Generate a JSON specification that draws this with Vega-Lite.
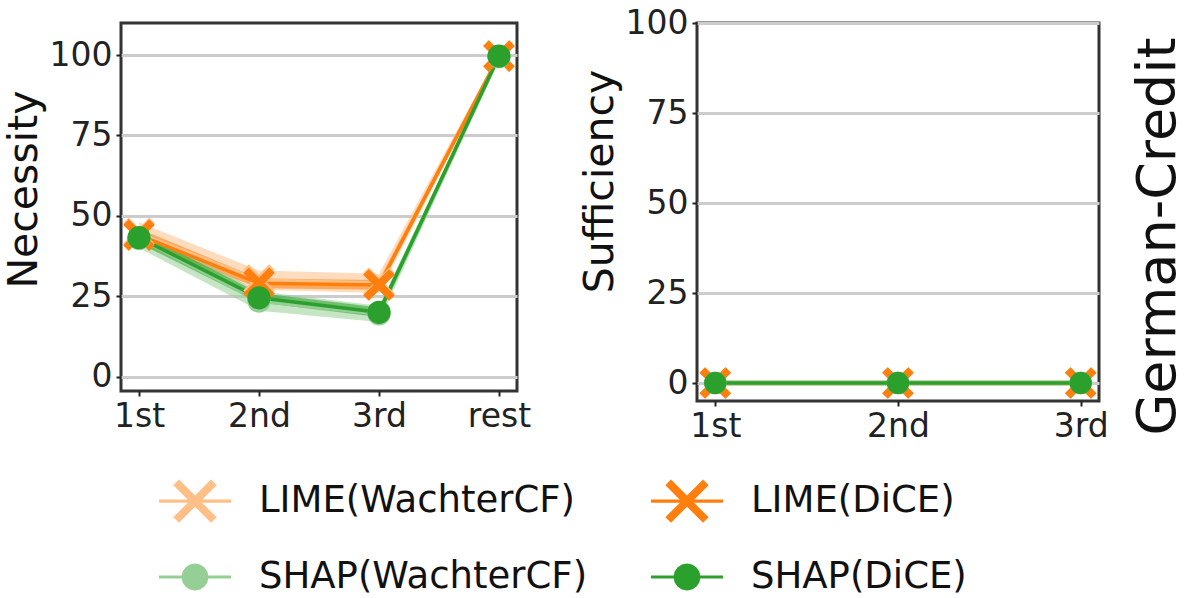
{
  "$schema": "https://vega.github.io/schema/vega-lite/v6.json",
  "background": "white",
  "padding": {"left": 1, "top": 5, "right": 0, "bottom": 170},
  "datasets": {
    "d": [
      {"panel": "nec", "series": "LIME(WachterCF)", "rank": "1st", "value": 44.5, "lo": 41, "hi": 48},
      {"panel": "nec", "series": "LIME(WachterCF)", "rank": "2nd", "value": 30, "lo": 27, "hi": 33},
      {"panel": "nec", "series": "LIME(WachterCF)", "rank": "3rd", "value": 29, "lo": 26, "hi": 32},
      {"panel": "nec", "series": "LIME(WachterCF)", "rank": "rest", "value": 99.7, "lo": 98.7, "hi": 100.7},
      {"panel": "nec", "series": "LIME(DiCE)", "rank": "1st", "value": 44, "lo": 42, "hi": 46},
      {"panel": "nec", "series": "LIME(DiCE)", "rank": "2nd", "value": 29, "lo": 27.5, "hi": 30.5},
      {"panel": "nec", "series": "LIME(DiCE)", "rank": "3rd", "value": 28.5, "lo": 27, "hi": 30},
      {"panel": "nec", "series": "LIME(DiCE)", "rank": "rest", "value": 99.7, "lo": 99, "hi": 100.4},
      {"panel": "nec", "series": "SHAP(WachterCF)", "rank": "1st", "value": 43, "lo": 40, "hi": 46},
      {"panel": "nec", "series": "SHAP(WachterCF)", "rank": "2nd", "value": 23.5, "lo": 20.5, "hi": 26.5},
      {"panel": "nec", "series": "SHAP(WachterCF)", "rank": "3rd", "value": 19.5, "lo": 17, "hi": 22},
      {"panel": "nec", "series": "SHAP(WachterCF)", "rank": "rest", "value": 99.5, "lo": 98.5, "hi": 100.5},
      {"panel": "nec", "series": "SHAP(DiCE)", "rank": "1st", "value": 43.2, "lo": 41.5, "hi": 45},
      {"panel": "nec", "series": "SHAP(DiCE)", "rank": "2nd", "value": 24.5, "lo": 23, "hi": 26},
      {"panel": "nec", "series": "SHAP(DiCE)", "rank": "3rd", "value": 20, "lo": 18.5, "hi": 21.5},
      {"panel": "nec", "series": "SHAP(DiCE)", "rank": "rest", "value": 99.7, "lo": 99, "hi": 100.4},
      {"panel": "suf", "series": "LIME(WachterCF)", "rank": "1st", "value": 0, "lo": -0.8, "hi": 0.8},
      {"panel": "suf", "series": "LIME(WachterCF)", "rank": "2nd", "value": 0, "lo": -0.8, "hi": 0.8},
      {"panel": "suf", "series": "LIME(WachterCF)", "rank": "3rd", "value": 0, "lo": -0.8, "hi": 0.8},
      {"panel": "suf", "series": "LIME(DiCE)", "rank": "1st", "value": 0, "lo": -0.5, "hi": 0.5},
      {"panel": "suf", "series": "LIME(DiCE)", "rank": "2nd", "value": 0, "lo": -0.5, "hi": 0.5},
      {"panel": "suf", "series": "LIME(DiCE)", "rank": "3rd", "value": 0, "lo": -0.5, "hi": 0.5},
      {"panel": "suf", "series": "SHAP(WachterCF)", "rank": "1st", "value": 0, "lo": -0.8, "hi": 0.8},
      {"panel": "suf", "series": "SHAP(WachterCF)", "rank": "2nd", "value": 0, "lo": -0.8, "hi": 0.8},
      {"panel": "suf", "series": "SHAP(WachterCF)", "rank": "3rd", "value": 0, "lo": -0.8, "hi": 0.8},
      {"panel": "suf", "series": "SHAP(DiCE)", "rank": "1st", "value": 0, "lo": -0.5, "hi": 0.5},
      {"panel": "suf", "series": "SHAP(DiCE)", "rank": "2nd", "value": 0, "lo": -0.5, "hi": 0.5},
      {"panel": "suf", "series": "SHAP(DiCE)", "rank": "3rd", "value": 0, "lo": -0.5, "hi": 0.5}
    ]
  },
  "spacing": 180,
  "bounds": "flush",
  "resolve": {"scale": {"color": "shared", "shape": "shared"}},
  "hconcat": [
    {
      "width": 396,
      "height": 368,
      "data": {"name": "d"},
      "transform": [{"filter": "datum.panel == 'nec'"}],
      "encoding": {
        "x": {"field": "rank", "type": "ordinal", "sort": ["1st", "2nd", "3rd", "rest"], "scale": {"type": "point", "padding": 0.15}, "axis": {"title": null, "labelAngle": 0, "grid": false}},
        "color": {"field": "series", "type": "nominal", "scale": {"domain": ["LIME(WachterCF)", "LIME(DiCE)", "SHAP(WachterCF)", "SHAP(DiCE)"], "range": ["#ffbf86", "#ff7f0e", "#95cf95", "#2ca02c"]}, "legend": null}
      },
      "layer": [
        {
          "transform": [{"filter": "false"}],
          "mark": {"type": "point", "filled": true, "opacity": 1},
          "encoding": {
            "y": {"field": "value", "type": "quantitative", "scale": {"domain": [-4.5, 110], "nice": false, "zero": false}, "axis": {"title": "Necessity", "values": [0, 25, 50, 75, 100], "titleY": 166}},
            "shape": {"field": "series", "type": "nominal", "scale": {"domain": ["LIME(WachterCF)", "LIME(DiCE)", "SHAP(WachterCF)", "SHAP(DiCE)"], "range": [
              "M0.445,-0.601L0.601,-0.445L0.156,0L0.601,0.445L0.445,0.601L0,0.156L-0.445,0.601L-0.601,0.445L-0.156,0L-0.601,-0.445L-0.445,-0.601L0,-0.156ZM-1,-0.045L1,-0.045L1,0.045L-1,0.045Z",
              "M0.445,-0.601L0.601,-0.445L0.156,0L0.601,0.445L0.445,0.601L0,0.156L-0.445,0.601L-0.601,0.445L-0.156,0L-0.601,-0.445L-0.445,-0.601L0,-0.156ZM-1,-0.045L1,-0.045L1,0.045L-1,0.045Z",
              "M0.375,0L0.346,0.144L0.265,0.265L0.144,0.346L0,0.375L-0.144,0.346L-0.265,0.265L-0.346,0.144L-0.375,0L-0.346,-0.144L-0.265,-0.265L-0.144,-0.346L0,-0.375L0.144,-0.346L0.265,-0.265L0.346,-0.144ZM-1,-0.045L1,-0.045L1,0.045L-1,0.045Z",
              "M0.375,0L0.346,0.144L0.265,0.265L0.144,0.346L0,0.375L-0.144,0.346L-0.265,0.265L-0.346,0.144L-0.375,0L-0.346,-0.144L-0.265,-0.265L-0.144,-0.346L0,-0.375L0.144,-0.346L0.265,-0.265L0.346,-0.144ZM-1,-0.045L1,-0.045L1,0.045L-1,0.045Z"
            ]}, "legend": {"orient": "none", "legendX": 38, "legendY": 442, "columns": 2, "direction": "horizontal", "title": null}},
            "color": {"field": "series", "type": "nominal", "legend": {"orient": "none", "legendX": 38, "legendY": 442, "columns": 2, "direction": "horizontal", "title": null}}
          }
        },
        {
          "mark": {"type": "area", "opacity": 0.55},
          "encoding": {
            "y": {"field": "lo", "type": "quantitative"},
            "y2": {"field": "hi"}
          }
        },
        {
          "mark": {"type": "line", "strokeWidth": 3.5},
          "encoding": {"y": {"field": "value", "type": "quantitative"}}
        },
        {
          "transform": [{"filter": "indexof(datum.series, 'LIME') == 0"}],
          "mark": {"type": "point", "shape": "M0.646,-1L1,-0.646L0.354,0L1,0.646L0.646,1L0,0.354L-0.646,1L-1,0.646L-0.354,0L-1,-0.646L-0.646,-1L0,-0.354Z", "filled": true, "size": 1000, "opacity": 1},
          "encoding": {"y": {"field": "value", "type": "quantitative"}}
        },
        {
          "transform": [{"filter": "indexof(datum.series, 'SHAP') == 0"}],
          "mark": {"type": "circle", "size": 540, "opacity": 1},
          "encoding": {"y": {"field": "value", "type": "quantitative"}}
        }
      ]
    },
    {
      "width": 402,
      "height": 378,
      "data": {"name": "d"},
      "transform": [{"filter": "datum.panel == 'suf'"}],
      "resolve": {"scale": {"y": "independent"}, "axis": {"y": "independent"}},
      "encoding": {
        "x": {"field": "rank", "type": "ordinal", "sort": ["1st", "2nd", "3rd"], "scale": {"type": "point", "padding": 0.1}, "axis": {"title": null, "labelAngle": 0, "grid": false}},
        "color": {"field": "series", "type": "nominal", "legend": null}
      },
      "layer": [
        {
          "layer": [
            {
              "mark": {"type": "area", "opacity": 0.55},
              "encoding": {
                "y": {"field": "lo", "type": "quantitative", "scale": {"domain": [-5, 100], "nice": false, "zero": false}, "axis": {"title": "Sufficiency", "values": [0, 25, 50, 75, 100], "titleY": 158}},
                "y2": {"field": "hi"}
              }
            },
            {
              "mark": {"type": "line", "strokeWidth": 3.5},
              "encoding": {"y": {"field": "value", "type": "quantitative"}}
            },
            {
              "transform": [{"filter": "indexof(datum.series, 'LIME') == 0"}],
              "mark": {"type": "point", "shape": "M0.646,-1L1,-0.646L0.354,0L1,0.646L0.646,1L0,0.354L-0.646,1L-1,0.646L-0.354,0L-1,-0.646L-0.646,-1L0,-0.354Z", "filled": true, "size": 1000, "opacity": 1},
              "encoding": {"y": {"field": "value", "type": "quantitative"}}
            },
            {
              "transform": [{"filter": "indexof(datum.series, 'SHAP') == 0"}],
              "mark": {"type": "circle", "size": 500, "opacity": 1},
              "encoding": {"y": {"field": "value", "type": "quantitative"}}
            }
          ]
        },
        {
          "transform": [{"filter": "false"}],
          "mark": {"type": "rule"},
          "encoding": {
            "y": {"field": "value", "type": "quantitative", "scale": {"domain": [-5, 100], "nice": false, "zero": false}, "axis": {"orient": "right", "title": "German-Credit", "labels": false, "ticks": false, "grid": false, "domain": false, "titleAngle": 270, "titleX": 75, "titleY": 213, "titleFontSize": 54, "titleBaseline": "alphabetic", "titleAlign": "center"}}
          }
        }
      ]
    }
  ],
  "config": {
    "font": "DejaVu Sans",
    "view": {"stroke": "#333333", "strokeWidth": 3},
    "axis": {
      "labelFont": "DejaVu Sans", "labelFontSize": 33, "labelColor": "#222222", "labelPadding": 4,
      "titleFont": "DejaVu Sans", "titleFontSize": 41, "titleFontWeight": "normal", "titleColor": "#111111", "titlePadding": 4,
      "tickColor": "#222222", "tickSize": 5, "tickWidth": 2,
      "domain": false, "gridColor": "#cccccc", "gridWidth": 3
    },
    "legend": {
      "labelFont": "DejaVu Sans", "labelFontSize": 37, "labelColor": "#111111", "labelOffset": 28,
      "symbolSize": 5184, "symbolStrokeWidth": 0, "symbolOpacity": 1,
      "rowPadding": 18, "columnPadding": 63, "labelLimit": 600
    }
  }
}
